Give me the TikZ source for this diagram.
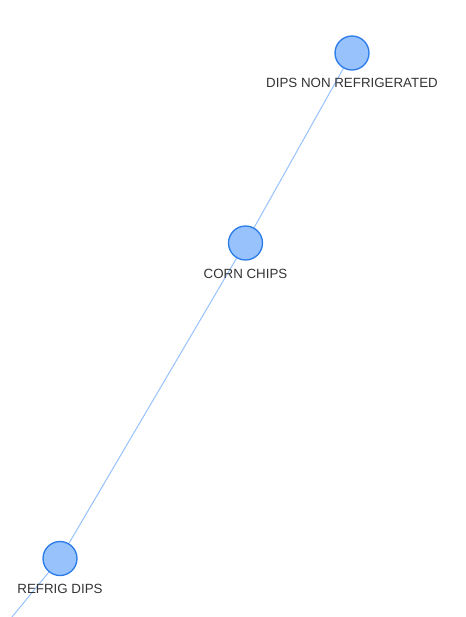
\documentclass[tikz,border=0pt]{standalone}
\usepackage{fontspec}
\setmainfont{Liberation Sans}
\usetikzlibrary{backgrounds}
\definecolor{dotfill}{HTML}{97C2FC}
\definecolor{dotline}{HTML}{2B7CE9}
\definecolor{tagtext}{HTML}{343434}
\tikzstyle{dot}=[circle,draw=dotline,fill=dotfill,line width=1pt,minimum size=25.5pt,inner sep=0pt]
\tikzstyle{tag}=[text=tagtext,font=\fontsize{10}{12}\selectfont,inner sep=0pt]
\tikzstyle{link}=[draw=dotfill,line width=0.75pt]

\begin{document}
\begin{tikzpicture}[x=0.75pt,y=-0.75pt]
    \useasboundingbox (0,0) rectangle (466,617);
    \clip (0,0) rectangle (466,617);
    \node[dot] (dips) at (352,53) {};
    \node[dot] (corn) at (245.5,243) {};
    \node[dot] (refrig) at (60,558.5) {};
    \coordinate (away) at (-34,673);
    \node[tag] (dipsl) at (352,82.5) {DIPS NON REFRIGERATED};
    \node[tag] (cornl) at (245.5,273.5) {CORN CHIPS};
    \node[tag] (refrigl) at (60,588.5) {REFRIG DIPS};
    \begin{scope}[on background layer]
    \draw[link] (dips) -- (corn);
    \draw[link] (corn) -- (refrig);
    \draw[link] (refrig) -- (away);
    \end{scope}
  \end{tikzpicture}
\end{document}
